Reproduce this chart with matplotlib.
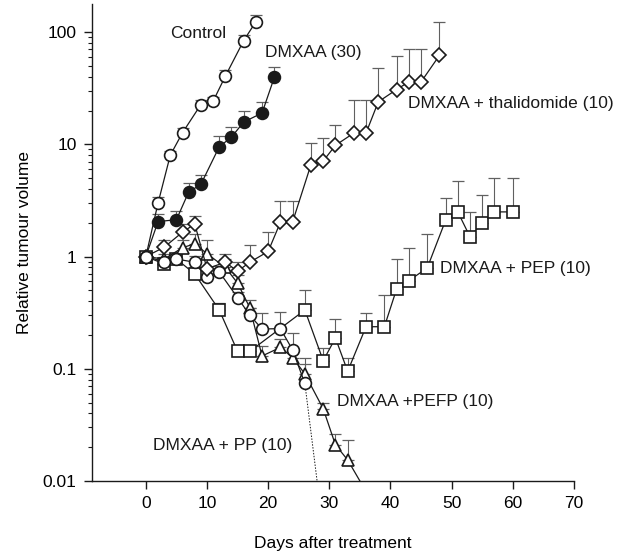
"""Relative tumour volume after DMXAA treatment, alone and in combination."""

import matplotlib
matplotlib.use("Agg")
import matplotlib.pyplot as plt

plt.rcParams["font.family"] = ["Liberation Sans", "DejaVu Sans"]

# days after treatment, mean relative volume, upper error (SEM)
control_days = [0, 2, 4, 6, 9, 11, 13, 16, 18]
control_vol = [1.0, 3.0, 8.0, 12.7, 22.6, 24.2, 40.5, 84.0, 124.0]
control_err = [0.1, 0.4, 0.8, 1.2, 2.0, 2.0, 5.3, 11.0, 18.0]

dmxaa30_days = [0, 2, 5, 7, 9, 12, 14, 16, 19, 21]
dmxaa30_vol = [1.0, 2.05, 2.13, 3.75, 4.4, 9.5, 11.6, 15.8, 19.0, 39.4]
dmxaa30_err = [0.1, 0.35, 0.4, 0.75, 0.9, 2.3, 2.7, 4.2, 5.0, 9.6]

thal_days = [0, 3, 6, 8, 10, 13, 15, 17, 20, 22, 24, 27, 29, 31, 34, 36, 38, 41, 43, 45, 48]
thal_vol = [1.0, 1.21, 1.65, 1.95, 0.78, 0.89, 0.74, 0.89, 1.11, 2.02, 2.04,
            6.6, 7.1, 9.8, 12.6, 12.6, 23.9, 30.8, 36.0, 36.0, 62.0]
thal_err = [0.1, 0.2, 0.3, 0.35, 0.2, 0.17, 0.15, 0.38, 0.55, 1.1, 1.1,
            3.7, 4.2, 5.0, 12.4, 12.4, 24.0, 30.0, 34.0, 34.0, 62.0]

pep_days = [0, 3, 5, 8, 12, 15, 17, 26, 29, 31, 33, 36, 39, 41, 43, 46, 49, 51, 53, 55, 57, 60]
pep_vol = [1.0, 0.86, 0.95, 0.70, 0.334, 0.143, 0.143, 0.334, 0.118, 0.188, 0.095,
           0.237, 0.237, 0.514, 0.61, 0.79, 2.1, 2.5, 1.5, 2.0, 2.5, 2.5]
pep_err = [0.1, 0.1, 0.1, 0.1, 0.05, 0.02, 0.02, 0.17, 0.035, 0.09, 0.03,
           0.08, 0.22, 0.44, 0.58, 0.8, 1.2, 2.2, 1.0, 1.5, 2.5, 2.5]

pefp_days = [0, 3, 6, 8, 10, 13, 15, 17, 19, 22, 24, 26, 29, 31, 33]
pefp_vol = [1.0, 0.95, 1.2, 1.3, 1.06, 0.8, 0.58, 0.35, 0.13, 0.155, 0.126, 0.09,
            0.044, 0.021, 0.0154]
pefp_err = [0.1, 0.1, 0.2, 0.3, 0.35, 0.15, 0.1, 0.06, 0.03, 0.03, 0.025, 0.02,
            0.006, 0.005, 0.008]
pefp_zero_day = 35

pp_days = [0, 3, 5, 8, 10, 12, 15, 17, 19, 22, 24, 26]
pp_vol = [1.0, 0.9, 0.95, 0.89, 0.66, 0.73, 0.43, 0.30, 0.226, 0.228, 0.147, 0.074]
pp_err = [0.1, 0.1, 0.1, 0.12, 0.1, 0.1, 0.05, 0.05, 0.09, 0.09, 0.06, 0.05]
pp_zero_day = 28

y_floor = 0.01
ink = "#1a1a1a"


def draw_series(ax, days, vol, err, marker, filled=False, ms=8.5):
    ax.errorbar(days, vol, yerr=[[0] * len(err), err], fmt="none",
                ecolor="#606060", elinewidth=0.8, capsize=4, capthick=0.9, zorder=2)
    ax.plot(days, vol, color=ink, lw=0.9, marker=marker, ms=ms,
            mfc=ink if filled else "white", mec=ink, mew=1.2, zorder=3)


fig = plt.figure(figsize=(6.29, 5.53), dpi=100)
ax = fig.add_axes([92 / 629, 1 - 481 / 553, (574 - 92) / 629, (481 - 4) / 553])

# tails that fall below the detection floor
ax.plot([pefp_days[-1], pefp_zero_day], [pefp_vol[-1], y_floor], color=ink, lw=0.9, zorder=2)
ax.plot([pp_days[-1], pp_zero_day], [pp_vol[-1], y_floor], color=ink, lw=0.7,
        ls=(0, (1.5, 1.5)), zorder=2)

draw_series(ax, pep_days, pep_vol, pep_err, "s", ms=8)
draw_series(ax, pefp_days, pefp_vol, pefp_err, "^", ms=8.5)
draw_series(ax, pp_days, pp_vol, pp_err, "o", ms=8.5)
draw_series(ax, thal_days, thal_vol, thal_err, "D", ms=7.5)
draw_series(ax, dmxaa30_days, dmxaa30_vol, dmxaa30_err, "o", filled=True, ms=8.5)
draw_series(ax, control_days, control_vol, control_err, "o", ms=8.5)

ax.set_yscale("log")
ax.set_ylim(y_floor, 178)
ax.set_xlim(-8.8, 70)
ax.set_xticks(range(0, 71, 10))
ax.set_yticks([0.01, 0.1, 1, 10, 100])
ax.set_yticklabels(["0.01", "0.1", "1", "10", "100"])

for side in ("top", "right"):
    ax.spines[side].set_visible(False)
for side in ("left", "bottom"):
    ax.spines[side].set_linewidth(1.0)
    ax.spines[side].set_color(ink)
ax.tick_params(axis="both", which="major", length=6, width=1.0, color=ink,
               labelsize=12.5, pad=5)
ax.tick_params(axis="y", which="minor", length=3, width=0.8, color=ink)

ax.set_xlabel("Days after treatment", fontsize=12.5, labelpad=18)
ax.set_ylabel("Relative tumour volume", fontsize=12.5, labelpad=8)

label_kw = dict(fontsize=12.5, ha="left", va="center", color=ink)
ax.text(3.9, 98, "Control", **label_kw)
ax.text(19.5, 66, "DMXAA (30)", **label_kw)
ax.text(42.9, 23, "DMXAA + thalidomide (10)", **label_kw)
ax.text(48.1, 0.78, "DMXAA + PEP (10)", **label_kw)
ax.text(31.3, 0.051, "DMXAA +PEFP (10)", **label_kw)
ax.text(1.1, 0.0208, "DMXAA + PP (10)", **label_kw)

fig.savefig("out.png", dpi=100)
